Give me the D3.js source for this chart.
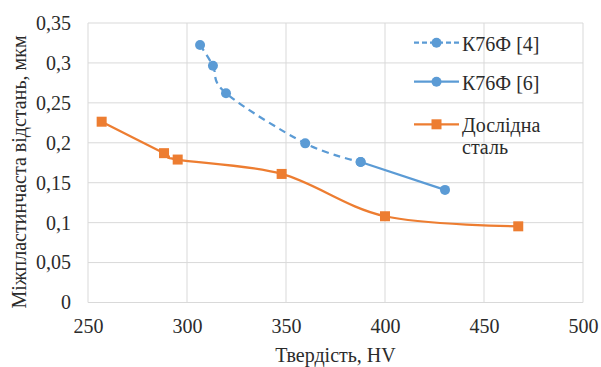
<!DOCTYPE html>
<html>
<head>
<meta charset="utf-8">
<script src="https://cdn.jsdelivr.net/npm/d3@7"></script>
<style>
  html, body { margin: 0; padding: 0; background: #fff; }
  svg { display: block; }
</style>
</head>
<body>
<script>
// series data
const k76f4X = [306.6, 313.1, 319.7, 359.7, 387.7];
const k76f4Y = [0.3225, 0.2965, 0.262, 0.1993, 0.176];
const k76f6X = [387.7, 430.3];
const k76f6Y = [0.176, 0.141];
const steelX = [256.9, 288.4, 295.3, 347.8, 400.0, 467.3];
const steelY = [0.2264, 0.187, 0.179, 0.161, 0.108, 0.0954];

const xTicks = [250, 300, 350, 400, 450, 500];
const yTicks = [0, 0.05, 0.1, 0.15, 0.2, 0.25, 0.3, 0.35];
const legendNames = ['К76Ф [4]', 'К76Ф [6]', 'Дослідна сталь'];

const xTitle = 'Твердість, HV';
const yTitle = 'Міжпластинчаста відстань, мкм';

const width = 601, height = 367;
const margin = { top: 23, right: 18, bottom: 64.5, left: 88 };

const blue = '#5B9BD5', orange = '#ED7D31', grid = '#d9d9d9';
const fontFamily = "'Liberation Serif', 'Times New Roman', serif";
const textColor = '#2b2b2b';

const svg = d3.select('body').append('svg')
  .attr('width', width)
  .attr('height', height);

const x = d3.scaleLinear().domain([250, 500]).range([margin.left, width - margin.right]);
const y = d3.scaleLinear().domain([0, 0.35]).range([height - margin.bottom, margin.top]);

const fmtY = d => d === 0 ? '0' : String(+d.toFixed(2)).replace('.', ',');

// gridlines
svg.append('g')
  .selectAll('line')
  .data(yTicks)
  .enter().append('line')
  .attr('x1', x(250)).attr('x2', x(500))
  .attr('y1', d => y(d)).attr('y2', d => y(d))
  .attr('stroke', grid).attr('stroke-width', 1);
svg.append('g')
  .selectAll('line')
  .data(xTicks)
  .enter().append('line')
  .attr('x1', d => x(d)).attr('x2', d => x(d))
  .attr('y1', y(0)).attr('y2', y(0.35))
  .attr('stroke', grid).attr('stroke-width', 1);

// axes (labels only, the lines are the grid)
const xAxis = svg.append('g')
  .attr('transform', 'translate(0,' + y(0) + ')')
  .call(d3.axisBottom(x).tickValues(xTicks).tickSize(0).tickPadding(16));
const yAxis = svg.append('g')
  .attr('transform', 'translate(' + x(250) + ',0)')
  .call(d3.axisLeft(y).tickValues(yTicks).tickFormat(fmtY).tickSize(0).tickPadding(17));
[xAxis, yAxis].forEach(a => {
  a.select('.domain').remove();
  a.selectAll('text')
    .style('font-family', fontFamily)
    .style('font-size', '20px')
    .attr('fill', textColor);
});

// titles
svg.append('text')
  .attr('x', (x(250) + x(500)) / 2)
  .attr('y', 362)
  .attr('text-anchor', 'middle')
  .style('font-family', fontFamily)
  .style('font-size', '20px')
  .attr('fill', textColor)
  .text(xTitle);
svg.append('text')
  .attr('transform', 'translate(26,172) rotate(-90)')
  .attr('text-anchor', 'middle')
  .style('font-family', fontFamily)
  .style('font-size', '20px')
  .attr('fill', textColor)
  .text(yTitle);

const zip = (xs, ys) => xs.map((v, i) => ({ x: v, y: ys[i] }));
const smooth = d3.line().x(d => x(d.x)).y(d => y(d.y)).curve(d3.curveCardinal.tension(0));

const series = [
  { name: legendNames[0], data: zip(k76f4X, k76f4Y), color: blue, dash: '7,5', marker: 'circle' },
  { name: legendNames[1], data: zip(k76f6X, k76f6Y), color: blue, dash: null, marker: 'circle' },
  { name: legendNames[2], data: zip(steelX, steelY), color: orange, dash: null, marker: 'square' },
];

series.forEach(s => {
  const g = svg.append('g');
  g.append('path')
    .datum(s.data)
    .attr('d', smooth)
    .attr('fill', 'none')
    .attr('stroke', s.color)
    .attr('stroke-width', 2.25)
    .attr('stroke-dasharray', s.dash);
  if (s.marker === 'circle') {
    g.selectAll('circle').data(s.data).enter().append('circle')
      .attr('cx', d => x(d.x)).attr('cy', d => y(d.y)).attr('r', 5)
      .attr('fill', s.color);
  } else {
    g.selectAll('rect').data(s.data).enter().append('rect')
      .attr('x', d => x(d.x) - 5).attr('y', d => y(d.y) - 5)
      .attr('width', 10).attr('height', 10)
      .attr('fill', s.color);
  }
});

// legend
const legendRows = [42.7, 81.7, 124.3];
const legend = svg.append('g');
series.forEach((s, i) => {
  const ly = legendRows[i];
  legend.append('line')
    .attr('x1', 414).attr('x2', 459).attr('y1', ly).attr('y2', ly)
    .attr('stroke', s.color).attr('stroke-width', 2.25)
    .attr('stroke-dasharray', s.dash ? '5,3' : null);
  if (s.marker === 'circle') {
    legend.append('circle').attr('cx', 436.5).attr('cy', ly).attr('r', 5).attr('fill', s.color);
  } else {
    legend.append('rect').attr('x', 431.5).attr('y', ly - 5).attr('width', 10).attr('height', 10).attr('fill', s.color);
  }
  // the last entry wraps onto two lines
  const lines = i === 2 ? s.name.split(' ') : [s.name];
  const t = legend.append('text')
    .attr('x', 462).attr('y', ly + 8)
    .style('font-family', fontFamily)
    .style('font-size', '20px')
    .attr('fill', textColor);
  lines.forEach((ln, j) => {
    t.append('tspan').attr('x', 462).attr('dy', j === 0 ? 0 : 22).text(ln);
  });
});
</script>
</body>
</html>
